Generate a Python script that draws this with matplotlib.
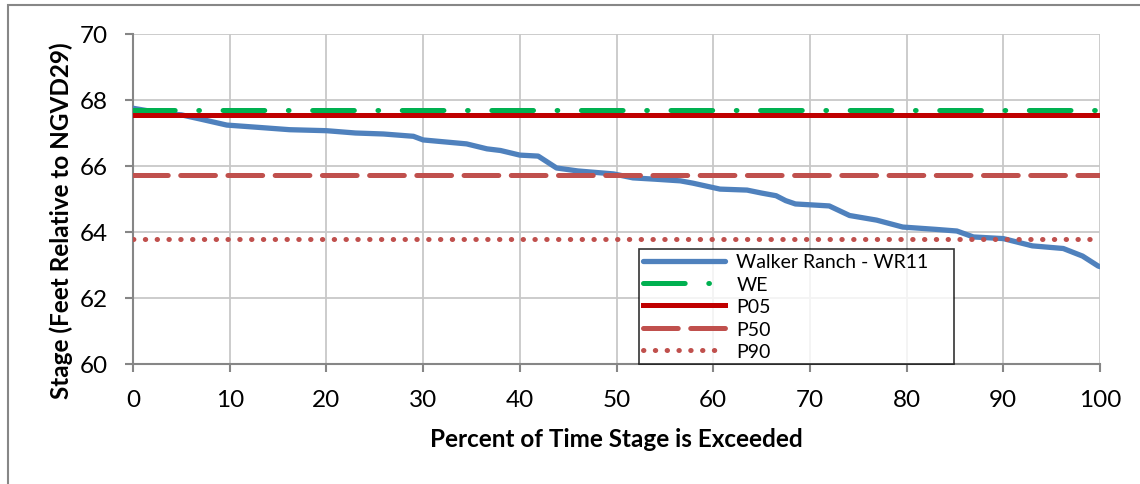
import numpy as np
import matplotlib
matplotlib.use("Agg")
import matplotlib.pyplot as plt
from matplotlib.patches import Rectangle

plt.rcParams['font.family'] = ['Lato', 'DejaVu Sans']
plt.rcParams['lines.scale_dashes'] = False

# stage duration curve
pct = [0, 3, 5, 7, 9.7, 13, 16.2, 20, 23, 25.9, 29, 30, 34.5, 36.6, 38, 40, 41.9,
       43.8, 46, 49.7, 51.7, 54, 56.6, 57.9, 60.7, 63.5, 65, 66.5, 67.5, 68.5, 72,
       74.1, 76.9, 79.6, 83, 85.2, 86.9, 90, 93, 96.2, 98.2, 99.8, 100]
stage = [67.75, 67.6, 67.55, 67.42, 67.24, 67.17, 67.1, 67.07, 67.0, 66.97, 66.9,
         66.79, 66.67, 66.52, 66.47, 66.33, 66.3, 65.94, 65.85, 65.76, 65.64, 65.6,
         65.55, 65.48, 65.3, 65.27, 65.18, 65.1, 64.95, 64.85, 64.79, 64.5, 64.36,
         64.15, 64.08, 64.03, 63.85, 63.8, 63.58, 63.5, 63.27, 62.97, 62.95]

we = 67.70
p05 = 67.55
p50 = 65.74
p90 = 63.80
xspan = [0, 100]

fig = plt.figure(figsize=(11.4, 4.85), dpi=100)
ax = fig.add_axes([133/1140, 1 - 365/485, (1100-133)/1140, (365-35)/485])

# outer chart border (only top and left visible)
fig.patches.append(Rectangle((8/1140, -0.1), 1.2, 1.1 - 6/485, transform=fig.transFigure,
                             fill=False, edgecolor='#878787', linewidth=1.5))

ax.plot(pct, stage, color='#4F81BD', lw=3.8, solid_joinstyle='round', solid_capstyle='round',
        label='Walker Ranch - WR11', zorder=3)
ax.plot(xspan, [we, we], color='#00B050', lw=3.6, dash_capstyle='round',
        dashes=(30, 17, 0.5, 17), label='WE', zorder=4)
ax.plot(xspan, [p05, p05], color='#C00000', lw=3.6, label='P05', zorder=5)
ax.plot(xspan, [p50, p50], color='#C0504D', lw=3.6, dash_capstyle='round',
        dashes=(25, 9), label='P50', zorder=4)
ax.plot(xspan, [p90, p90], color='#C0504D', lw=3.6, dash_capstyle='round',
        dashes=(0.3, 8.2), label='P90', zorder=4)

ax.set_xlim(0, 100)
ax.set_ylim(60, 70)
ax.set_xticks(np.arange(0, 101, 10))
ax.set_yticks(np.arange(60, 71, 2))
ax.grid(True, color='#C8C8C8', lw=1.3)
ax.set_axisbelow(True)
for s in ['top', 'right']:
    ax.spines[s].set_visible(False)
for s in ['left', 'bottom']:
    ax.spines[s].set_color('#868686')
    ax.spines[s].set_linewidth(1.5)
ax.tick_params(axis='both', direction='out', length=6, width=1.5, color='#868686',
               labelsize=17.5)
ax.tick_params(axis='x', pad=12)
ax.tick_params(axis='y', pad=12)

ax.set_xlabel('Percent of Time Stage is Exceeded', fontsize=17.5, fontweight='bold')
ax.set_ylabel('Stage (Feet Relative to NGVD29)', fontsize=17.5, fontweight='bold')
ax.xaxis.set_label_coords((616 - 133) / 967, -(440 - 365) / 330)
ax.yaxis.set_label_coords((61 - 133) / 967, (365 - 221) / 330)
ax.xaxis.label.set_va('center')
ax.yaxis.label.set_va('center')

leg = ax.legend(loc='lower left', bbox_to_anchor=(639/1140, 1 - 365/485, 315/1140, 118/485),
                bbox_transform=fig.transFigure, mode='expand', fontsize=14, frameon=True,
                fancybox=False, edgecolor='black', handlelength=4.2, labelspacing=0.28,
                borderpad=0.2, borderaxespad=0, handletextpad=0.6)
leg.get_frame().set_linewidth(1.2)
leg.set_zorder(10)

fig.savefig('out.png', dpi=100)
